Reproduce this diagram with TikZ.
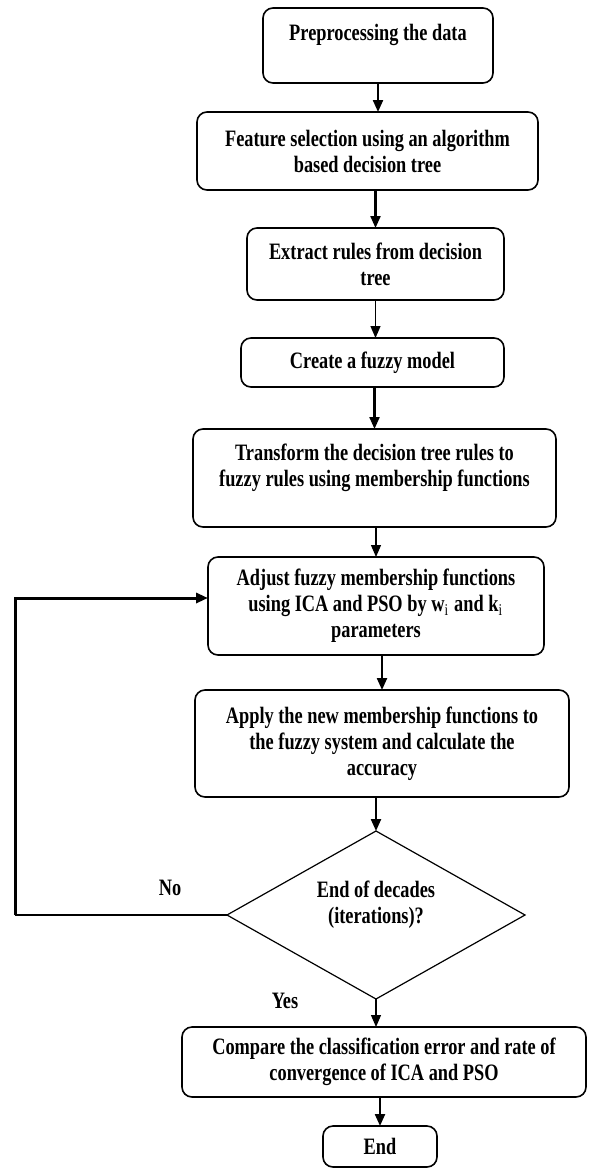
\documentclass[tikz,border=0pt]{standalone}
\usepackage{fontspec}
\setmainfont{Liberation Serif}[FakeStretch=0.78]
\usepackage{tikz}
\usetikzlibrary{arrows.meta,shapes.geometric}
\usetikzlibrary{positioning}

\begin{document}
\begin{tikzpicture}[
  font=\fontsize{23.5}{26}\selectfont\bfseries,
  stepbox/.style={rectangle,rounded corners=10pt,draw=black,line width=1.6pt,align=center,inner sep=0pt,outer sep=0pt},
  decision/.style={diamond,draw=black,line width=1.2pt,align=center,inner sep=0pt,outer sep=0pt,aspect=1.77},
  flow/.style={-{Triangle[length=12pt,width=10pt]},line width=2.2pt},
  flowthin/.style={flow,line width=1.2pt}]
\useasboundingbox (0pt,0pt) rectangle (613pt,-1170pt);
\node[stepbox,minimum width=230pt,minimum height=75pt] at (378pt,-45.5pt) (pre){Preprocessing the data\\\mbox{}};
\node[stepbox,minimum width=341pt,minimum height=78pt,below=29pt of pre,xshift=-10.5pt](feat){Feature selection using an algorithm\\based decision tree};
\node[stepbox,minimum width=257pt,minimum height=72pt,below=38pt of feat,xshift=8pt](extr){Extract rules from decision\\tree};
\node[stepbox,minimum width=263pt,minimum height=49pt,below=38pt of extr,xshift=-3pt](fuzz){Create a fuzzy model};
\node[stepbox,minimum width=363pt,minimum height=98pt,below=42pt of fuzz,xshift=2pt](trans){Transform the decision tree rules to\\fuzzy rules using membership functions\\\mbox{}};
\node[stepbox,minimum width=336pt,minimum height=98pt,below=30pt of trans,xshift=1.5pt](adj){Adjust fuzzy membership functions\\using ICA and PSO by w$_{\mathrm{i}}$ and k$_{\mathrm{i}}$\\parameters};
\node[stepbox,minimum width=374pt,minimum height=107pt,below=35pt of adj,xshift=6pt](appl){Apply the new membership functions to\\the fuzzy system and calculate the\\accuracy};
\node[decision,minimum width=298pt,minimum height=168pt,below=34pt of appl,xshift=-6pt](dec){End of decades\\(iterations)?\\\mbox{}};
\node[stepbox,minimum width=404pt,minimum height=70pt,below=28pt of dec,xshift=8pt](comp){Compare the classification error and rate of\\convergence of ICA and PSO};
\node[stepbox,minimum width=114pt,minimum height=41pt,below=29pt of comp,xshift=-4pt](stop){End};
\node at ([xshift=-57pt,yshift=27pt]dec.west) (no){No};
\node at ([xshift=-91pt,yshift=-2pt]dec.south) (yes){Yes};
\coordinate[left=212pt of dec.west] (back);

\draw[flow] (pre.south) -- (pre.south |- feat.north);
\draw[flow] (extr.north |- feat.south) -- (extr.north);
\draw[flowthin] (extr.south) -- (extr.south |- fuzz.north);
\draw[flow] (trans.north |- fuzz.south) -- (trans.north);
\draw[flowthin] (adj.north |- trans.south) -- (adj.north);
\draw[flow] (appl.north |- adj.south) -- (appl.north);
\draw[flow] (dec.north |- appl.south) -- (dec.north);
\draw[flowthin] (dec.south) -- (dec.south |- comp.north);
\draw[flow] (stop.north |- comp.south) -- (stop.north);
% way back when the decades are not over
\draw[line width=1.4pt] (dec.west) -- (back);
\draw[flow,line width=3pt] (back) |- ([yshift=8pt]adj.west);
\end{tikzpicture}
\end{document}
